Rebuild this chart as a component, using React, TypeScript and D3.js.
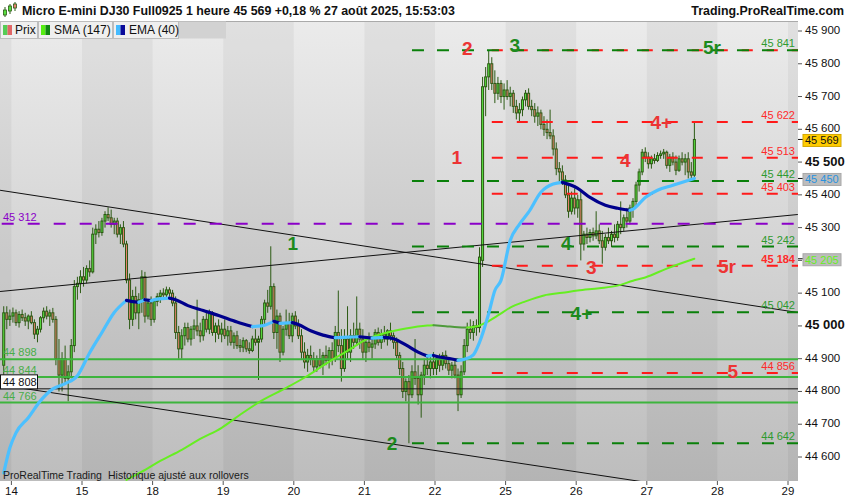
import React from 'react';
import * as d3 from 'd3';

// open, high, low, close
type Candle = [number, number, number, number];

const dayLabels = ['14', '15', '18', '19', '20', '21', '22', '25', '26', '27', '28', '29'];

const aug13: Candle[] = [
    [44880, 45060, 44840, 45040], [45040, 45060, 44990, 45020], [45020, 45050, 45000, 45030],
];
const aug14: Candle[] = [
    [45030, 45056, 45010, 45040], [45040, 45050, 45000, 45010], [45010, 45045, 44995, 45035],
    [45035, 45050, 45015, 45025], [45025, 45040, 45000, 45015], [45015, 45035, 44990, 45030],
    [45030, 45045, 45005, 45010], [45010, 45020, 44960, 44975], [44975, 45000, 44950, 44990],
    [44990, 45030, 44980, 45025], [45025, 45056, 45010, 45045], [45045, 45060, 45020, 45030],
    [45030, 45050, 45000, 45040], [45040, 45055, 45010, 45020], [45020, 45030, 44880, 44900],
    [44900, 44960, 44800, 44850], [44850, 44920, 44800, 44900], [44900, 44940, 44820, 44840],
    [44840, 44880, 44770, 44860], [44860, 44960, 44840, 44940], [44940, 45140, 44920, 45120],
    [45120, 45150, 45080, 45130], [45130, 45170, 45100, 45150],
];
const aug15: Candle[] = [
    [45150, 45180, 45120, 45140], [45140, 45185, 45130, 45175], [45175, 45200, 45150, 45165],
    [45165, 45300, 45160, 45280], [45280, 45310, 45250, 45295], [45295, 45320, 45270, 45285],
    [45285, 45330, 45275, 45320], [45320, 45350, 45300, 45340], [45340, 45362, 45320, 45330],
    [45330, 45355, 45300, 45310], [45310, 45330, 45280, 45320], [45320, 45330, 45270, 45280],
    [45280, 45310, 45250, 45300], [45300, 45320, 45240, 45250], [45250, 45260, 45130, 45140],
    [45140, 45160, 44990, 45020], [45020, 45110, 45000, 45090], [45090, 45120, 45020, 45040],
    [45040, 45100, 44990, 45080], [45080, 45170, 45040, 45150], [45150, 45165, 45010, 45030],
    [45030, 45080, 45020, 45070], [45070, 45090, 45000, 45020],
];
const aug18: Candle[] = [
    [45020, 45080, 45010, 45075], [45075, 45100, 45060, 45090], [45090, 45110, 45070, 45100],
    [45100, 45115, 45085, 45095], [45095, 45120, 45080, 45110], [45110, 45118, 45085, 45100],
    [45100, 45110, 45060, 45070], [45070, 45090, 44960, 44980], [44980, 45000, 44900, 44930],
    [44930, 44990, 44900, 44970], [44970, 45010, 44940, 44995], [44995, 45010, 44950, 44960],
    [44960, 45000, 44940, 44990], [44990, 45020, 44960, 45000], [45000, 45080, 44970, 44985],
    [44985, 45010, 44950, 44970], [44970, 45030, 44955, 45020], [45020, 45040, 44980, 44990],
    [44990, 45050, 44975, 45040], [45040, 45045, 44970, 44980], [44980, 45010, 44950, 45000],
    [45000, 45020, 44960, 44975], [44975, 45010, 44950, 44990],
];
const aug19: Candle[] = [
    [44990, 45020, 44960, 44970], [44970, 45000, 44940, 44985], [44985, 45000, 44940, 44950],
    [44950, 44980, 44930, 44970], [44970, 44985, 44930, 44940], [44940, 44960, 44920, 44935],
    [44935, 44965, 44920, 44955], [44955, 44960, 44920, 44930], [44930, 44950, 44915, 44925],
    [44925, 44970, 44920, 44960], [44960, 44990, 44940, 44950], [44950, 44970, 44835, 44960],
    [44960, 45030, 44950, 45020], [45020, 45080, 45000, 45070], [45070, 45110, 45040, 45060],
    [45060, 45243, 45050, 45120], [45120, 45130, 44960, 44980], [44980, 45050, 44930, 45030],
    [45030, 45040, 44890, 44920], [44920, 45000, 44910, 44990], [44990, 45050, 44970, 45010],
    [45010, 45040, 44960, 44970], [44970, 45040, 44950, 45030],
];
const aug20: Candle[] = [
    [45030, 45045, 44990, 45000], [45000, 45020, 44960, 44970], [44970, 44990, 44900, 44920],
    [44920, 44950, 44870, 44890], [44890, 44930, 44860, 44910], [44910, 44940, 44880, 44900],
    [44900, 44920, 44860, 44875], [44875, 44910, 44860, 44900], [44900, 44930, 44870, 44880],
    [44880, 44920, 44850, 44910], [44910, 44940, 44880, 44895], [44895, 44935, 44870, 44925],
    [44925, 44950, 44880, 44900], [44900, 45000, 44890, 44980], [44980, 45108, 44920, 44940],
    [44940, 44990, 44830, 44870], [44870, 44990, 44860, 44960], [44960, 45060, 44900, 44920],
    [44920, 44990, 44890, 44970], [44970, 45010, 44930, 44950], [44950, 45090, 44940, 44990],
    [44990, 45010, 44930, 44960], [44960, 44990, 44900, 44920],
];
const aug21: Candle[] = [
    [44920, 44960, 44890, 44950], [44950, 44980, 44920, 44935], [44935, 44960, 44900, 44945],
    [44945, 44990, 44930, 44980], [44980, 44995, 44940, 44950], [44950, 44990, 44930, 44975],
    [44975, 45000, 44950, 44960], [44960, 44990, 44940, 44985], [44985, 45010, 44955, 44970],
    [44970, 44980, 44930, 44950], [44950, 44965, 44900, 44910], [44910, 44920, 44850, 44870],
    [44870, 44890, 44780, 44800], [44800, 44840, 44770, 44830], [44830, 44850, 44642, 44790],
    [44790, 44880, 44780, 44860], [44860, 44960, 44820, 44840], [44840, 44880, 44760, 44790],
    [44790, 44860, 44720, 44850], [44850, 44900, 44820, 44880], [44880, 44910, 44850, 44870],
    [44870, 44905, 44840, 44890], [44890, 44920, 44850, 44870],
];
const aug22: Candle[] = [
    [44870, 44910, 44850, 44900], [44900, 44915, 44860, 44880], [44880, 44920, 44865, 44910],
    [44910, 44925, 44870, 44885], [44885, 44900, 44850, 44865], [44865, 44890, 44840, 44880],
    [44880, 44895, 44840, 44850], [44850, 44870, 44740, 44790], [44790, 44880, 44780, 44860],
    [44860, 44960, 44850, 44940], [44940, 45010, 44920, 44990], [44990, 45020, 44960, 44980],
    [44980, 45015, 44955, 45000], [45000, 45020, 44970, 44995], [44995, 45240, 44980, 45210],
    [45200, 45760, 45180, 45730], [45730, 45790, 45640, 45760], [45760, 45841, 45720, 45800],
    [45800, 45820, 45720, 45740], [45740, 45780, 45680, 45710], [45710, 45760, 45690, 45740],
    [45740, 45750, 45680, 45700], [45700, 45740, 45660, 45720],
];
const aug25: Candle[] = [
    [45720, 45750, 45690, 45700], [45700, 45730, 45670, 45710], [45710, 45720, 45650, 45670],
    [45670, 45690, 45630, 45650], [45650, 45680, 45620, 45660], [45660, 45700, 45640, 45690],
    [45690, 45720, 45670, 45710], [45710, 45725, 45660, 45670], [45670, 45690, 45640, 45660],
    [45660, 45680, 45620, 45640], [45640, 45670, 45610, 45650], [45650, 45660, 45600, 45615],
    [45615, 45640, 45580, 45600], [45600, 45630, 45570, 45590], [45590, 45660, 45570, 45580],
    [45580, 45600, 45520, 45540], [45540, 45560, 45460, 45480], [45480, 45500, 45440, 45470],
    [45470, 45490, 45430, 45445], [45445, 45460, 45390, 45400], [45400, 45430, 45330, 45350],
    [45350, 45410, 45340, 45390], [45390, 45420, 45340, 45360],
];
const aug26: Candle[] = [
    [45360, 45400, 45330, 45385], [45385, 45410, 45200, 45250], [45250, 45290, 45230, 45280],
    [45280, 45300, 45250, 45270], [45270, 45295, 45255, 45285], [45285, 45300, 45260, 45275],
    [45275, 45350, 45265, 45290], [45290, 45310, 45250, 45260], [45260, 45290, 45190, 45240],
    [45240, 45280, 45230, 45270], [45270, 45300, 45250, 45260], [45260, 45290, 45240, 45280],
    [45280, 45310, 45255, 45270], [45270, 45320, 45260, 45310], [45310, 45380, 45280, 45300],
    [45300, 45340, 45290, 45330], [45330, 45360, 45300, 45320], [45320, 45370, 45310, 45360],
    [45360, 45390, 45330, 45380], [45380, 45440, 45360, 45430], [45430, 45480, 45410, 45470],
    [45470, 45540, 45460, 45530], [45530, 45545, 45500, 45515],
];
const aug27: Candle[] = [
    [45515, 45530, 45480, 45495], [45495, 45520, 45480, 45510], [45510, 45525, 45495, 45505],
    [45505, 45530, 45500, 45520], [45520, 45535, 45510, 45525], [45525, 45540, 45510, 45530],
    [45530, 45535, 45480, 45490], [45490, 45525, 45470, 45515], [45515, 45530, 45490, 45500],
    [45500, 45520, 45460, 45475], [45475, 45520, 45470, 45510], [45510, 45530, 45490, 45500],
    [45500, 45525, 45460, 45510], [45510, 45530, 45450, 45470], [45470, 45500, 45440, 45460],
    [45460, 45622, 45450, 45569],
];

// [candle index, value]
const ema40: [number, number][] = [
    [0, 44551], [2, 44628], [4, 44674], [8, 44720], [12, 44772], [16, 44808], [20, 44824],
    [24, 44848], [28, 44918], [32, 44980], [36, 45041], [40, 45078], [42, 45074], [44, 45072],
    [46, 45080], [48, 45077], [50, 45082], [54, 45085], [56, 45080], [60, 45062], [65, 45047],
    [70, 45032], [76, 45012], [81, 44998], [84, 45000], [88, 45014], [90, 45008], [94, 45010],
    [96, 45004], [100, 44985], [104, 44972], [108, 44964], [112, 44966], [116, 44967],
    [120, 44963], [124, 44965], [127, 44961], [131, 44942], [135, 44920], [138, 44908],
    [140, 44910], [142, 44905], [146, 44899], [148, 44895], [150, 44898], [153, 44912],
    [155, 44950], [158, 45038], [160, 45108], [162, 45139], [165, 45261], [168, 45310],
    [171, 45347], [175, 45408], [179, 45433], [182, 45438], [187, 45420], [191, 45392],
    [196, 45368], [200, 45359], [204, 45353], [205, 45356], [209, 45392], [213, 45414],
    [218, 45429], [225, 45450],
];
const sma147: [number, number][] = [
    [40, 44530], [45, 44555], [51, 44588], [58, 44622], [64, 44655], [71, 44689], [77, 44729],
    [84, 44772], [92, 44811], [99, 44848], [105, 44885], [112, 44924], [118, 44958],
    [125, 44980], [131, 44992], [138, 45001], [140, 45002], [144, 44999], [148, 44996],
    [151, 44995], [155, 45001], [158, 45015], [161, 45032], [165, 45056], [170, 45075],
    [176, 45093], [182, 45101], [187, 45108], [194, 45115], [200, 45123], [205, 45138],
    [209, 45148], [216, 45175], [225, 45205],
];

const priceTicks = d3.range(44600, 45901, 100);
const greenLevels = [45841, 45442, 45242, 45042, 44642];
const redLevels = [45622, 45513, 45403, 45184, 44856];
const purpleLevel = 45312;
const solidGreenLevels = [44898, 44844, 44766];
const blackLevel = 44808;
// [[index, price], [index, price]]
const trendLines: [number, number][][] = [
    [[-1.2, 45414], [258.7, 45041]],
    [[-1.2, 45105], [258.7, 45340]],
    [[-1.2, 44820], [258.7, 44453]],
];
const notes: { t: string, i: number, p: number, red: boolean }[] = [
    { t: '2', i: 151, p: 45848, red: true },
    { t: '3', i: 166.5, p: 45857, red: false },
    { t: '5r', i: 230.7, p: 45851, red: false },
    { t: '1', i: 147.6, p: 45515, red: true },
    { t: '4+', i: 214.2, p: 45622, red: true },
    { t: '4', i: 202.5, p: 45506, red: true },
    { t: '4', i: 183.3, p: 45252, red: false },
    { t: '3', i: 191.4, p: 45178, red: true },
    { t: '4+', i: 188.2, p: 45038, red: false },
    { t: '5r', i: 235.6, p: 45181, red: true },
    { t: '5', i: 237.5, p: 44860, red: true },
    { t: '2', i: 126.5, p: 44640, red: false },
    { t: '1', i: 94.2, p: 45252, red: false },
];

const sessions: [number, Candle[]][] = [
    [-1, aug13], [0, aug14], [1, aug15], [2, aug18], [3, aug19], [4, aug20],
    [5, aug21], [6, aug22], [7, aug25], [8, aug26], [9, aug27],
];

const FIRST = 3;
const PER_DAY = 23;
const fmt = d3.formatLocale({ decimal: ',', thousands: ' ', grouping: [3], currency: ['', ''] }).format(',d');

function runs(points: [number, number][]) {
    const out: { up: boolean, pts: [number, number][] }[] = [];
    for (let k = 1; k < points.length; k++) {
        const up = points[k][1] >= points[k - 1][1];
        const last = out[out.length - 1];
        if (last && last.up === up) last.pts.push(points[k]);
        else out.push({ up, pts: [points[k - 1], points[k]] });
    }
    return out;
}

export default function App() {
    const W = 850, H = 500;
    const plotRight = 798, plotTop = 21, plotBottom = 481;

    const x = d3.scaleLinear().domain([FIRST, FIRST + PER_DAY * 11]).range([11.4, 11.4 + 70.6 * 11]);
    const cx = (i: number) => x(i + 0.5);
    const y = d3.scaleLinear().domain([44600, 45900]).range([457, 31]);

    const candles = sessions.flatMap(([d, arr]) =>
        arr.map((c, h) => ({ i: d < 0 ? FIRST - arr.length + h : FIRST + d * PER_DAY + h, c })));
    const last = candles[candles.length - 1].c;

    const line = d3.line<[number, number]>()
        .x(p => cx(p[0]))
        .y(p => y(p[1]))
        .curve(d3.curveMonotoneX);

    const font = "'Liberation Sans', Arial, sans-serif";
    const gStart = cx(133), rStart = cx(159);

    const bands = d3.range(-1, 12).map(d => {
        const x0 = Math.max(0, x(FIRST + d * PER_DAY));
        const x1 = Math.min(plotRight, x(FIRST + (d + 1) * PER_DAY));
        return { d, x0, x1 };
    });

    const tags = [
        { v: last[3], fill: '#ffcc00', stroke: '#d4a800', color: '#111' },
        { v: ema40[ema40.length - 1][1], fill: '#bdbdbd', stroke: '#a8a8a8', color: '#2a92dd' },
        { v: sma147[sma147.length - 1][1], fill: '#bdbdbd', stroke: '#a8a8a8', color: '#66ee22' },
    ];
    // tick labels hidden under a price tag, as in the original
    const hidden = (v: number) => tags.some(t => Math.abs(y(t.v) - y(v)) < 6);

    return (
        <svg width={W} height={H} style={{ position: 'absolute', left: 0, top: 0, display: 'block' }} fontFamily={font}>
            <defs>
                <linearGradient id="bg" x1="0" y1="0" x2="0" y2="1">
                    <stop offset="0" stopColor="#ebebeb" />
                    <stop offset="1" stopColor="#bdbdbd" />
                </linearGradient>
                <clipPath id="plot">
                    <rect x={0} y={plotTop} width={plotRight} height={plotBottom - plotTop} />
                </clipPath>
            </defs>
            <rect width={W} height={H} fill="#fff" />
            <rect x={0} y={plotTop} width={plotRight} height={plotBottom - plotTop} fill="url(#bg)" />
            {bands.filter(b => b.d % 2 !== 0).map(b =>
                <rect key={b.d} x={b.x0} y={plotTop} width={b.x1 - b.x0} height={plotBottom - plotTop} fill="rgba(0,0,0,0.045)" />)}

            <g clipPath="url(#plot)">
                {/* candles */}
                {candles.map(({ i, c }) => {
                    const [o, h, l, cl] = c;
                    const up = cl >= o;
                    const top = y(Math.max(o, cl));
                    const bh = Math.max(1, Math.abs(y(o) - y(cl)));
                    return <g key={i}>
                        <line x1={cx(i)} x2={cx(i)} y1={y(h)} y2={y(l)} stroke="#2c5a14" strokeWidth={1} />
                        <rect x={cx(i) - 1} y={top} width={2} height={bh}
                            fill={up ? '#58e040' : '#e8806e'} stroke="#2c5a14" strokeWidth={1} />
                    </g>;
                })}

                {/* horizontal solid levels */}
                {solidGreenLevels.map(v =>
                    <line key={v} x1={0} x2={plotRight} y1={y(v)} y2={y(v)} stroke="#3db43d" strokeWidth={2} />)}
                <line x1={0} x2={plotRight} y1={y(blackLevel)} y2={y(blackLevel)} stroke="#111" strokeWidth={1} />

                {/* trend lines */}
                {trendLines.map((t, k) =>
                    <line key={k} x1={cx(t[0][0])} y1={y(t[0][1])} x2={cx(t[1][0])} y2={y(t[1][1])} stroke="#111" strokeWidth={1} />)}

                {/* dashed levels */}
                <line x1={1.7} x2={plotRight} y1={y(purpleLevel)} y2={y(purpleLevel)} stroke="#8a00c8" strokeWidth={2} strokeDasharray="12 14" />
                <line x1={rStart} x2={plotRight} y1={y(greenLevels[0])} y2={y(greenLevels[0])} stroke="#ff1a1a" strokeWidth={2} strokeDasharray="11 14" />
                {greenLevels.map(v =>
                    <line key={v} x1={gStart} x2={plotRight} y1={y(v)} y2={y(v)} stroke="#0a800a" strokeWidth={2} strokeDasharray="12 13" />)}
                {redLevels.map(v =>
                    <line key={v} x1={rStart} x2={plotRight} y1={y(v)} y2={y(v)} stroke="#ff1a1a" strokeWidth={2} strokeDasharray="11 14" />)}

                {/* moving averages */}
                {runs(sma147).map((r, k) =>
                    <path key={'s' + k} d={line(r.pts) || ''} fill="none" stroke={r.up ? '#66ee22' : '#4f9a3c'} strokeWidth={2} strokeLinecap="round" />)}
                {runs(ema40).map((r, k) =>
                    <path key={'e' + k} d={line(r.pts) || ''} fill="none" stroke={r.up ? '#4cc0ff' : '#00008c'} strokeWidth={3.2} strokeLinecap="round" />)}

                {/* level labels */}
                {greenLevels.map(v =>
                    <text key={v} x={795} y={y(v) - 3} textAnchor="end" fontSize={11} fill="#2f9a2f">{fmt(v)}</text>)}
                {redLevels.map(v =>
                    <text key={v} x={795} y={y(v) - 3} textAnchor="end" fontSize={11} fill="#ff2a2a"
                        fontWeight={v === 45184 ? 'bold' : 'normal'}>{fmt(v)}</text>)}
                {solidGreenLevels.map(v =>
                    <text key={v} x={3} y={y(v) - 3} fontSize={11} fill="#48ad48">{fmt(v)}</text>)}
                <text x={3} y={y(purpleLevel) - 3} fontSize={11} fill="#8a00c8">{fmt(purpleLevel)}</text>
                <rect x={0.5} y={y(blackLevel) - 14} width={37} height={14} fill="#fff" stroke="#111" strokeWidth={1} />
                <text x={3} y={y(blackLevel) - 3} fontSize={11} fill="#111">{fmt(blackLevel)}</text>

                {notes.map((n, k) =>
                    <text key={k} x={cx(n.i)} y={y(n.p)} textAnchor="middle" dominantBaseline="central"
                        fontSize={19} fontWeight="bold" fill={n.red ? '#ec3434' : '#1d8a1d'}>{n.t}</text>)}

                <text x={3} y={479} fontSize={10.5} fill="#1a1a1a">ProRealTime Trading</text>
                <text x={108} y={479} fontSize={10.5} fill="#1a1a1a">Historique ajusté aux rollovers</text>
            </g>

            {/* legend row */}
            <line x1={0} x2={plotRight} y1={plotTop + 0.5} y2={plotTop + 0.5} stroke="#aaa" />
            <rect x={178} y={21.5} width={48} height={17} fill="#d2d2d2" />
            {[
                { x0: 0.5, w: 37, label: 'Prix', c1: '#55cc55', c2: '#e06666', tx: 15 },
                { x0: 38.5, w: 74, label: 'SMA (147)', c1: '#55ee11', c2: '#118811', tx: 54 },
                { x0: 113.5, w: 65, label: 'EMA (40)', c1: '#44bbff', c2: '#0a0a9a', tx: 129 },
            ].map(t => <g key={t.label}>
                <rect x={t.x0} y={21.5} width={t.w} height={17} fill="#efefef" stroke="#bdbdbd" />
                <rect x={t.x0 + 2.5} y={25} width={4.5} height={10} fill={t.c1} />
                <rect x={t.x0 + 7} y={25} width={4.5} height={10} fill={t.c2} />
                <text x={t.tx} y={34} fontSize={12} fill="#111">{t.label}</text>
            </g>)}

            {/* title */}
            <g>
                <line x1={5} x2={5} y1={7} y2={17} stroke="#2c5a14" />
                <rect x={3.5} y={10} width={3} height={5} fill="#58e040" stroke="#2c5a14" strokeWidth={0.8} />
                <line x1={10} x2={10} y1={4} y2={14} stroke="#2c5a14" />
                <rect x={8.5} y={6} width={3} height={5} fill="#58e040" stroke="#2c5a14" strokeWidth={0.8} />
                <line x1={15} x2={15} y1={2} y2={11} stroke="#2c5a14" />
                <rect x={13.5} y={4} width={3} height={4} fill="#e8806e" stroke="#2c5a14" strokeWidth={0.8} />
            </g>
            <text x={22} y={15} fontSize={12.4} fontWeight="bold" fill="#111">
                Micro E-mini DJ30 Full0925 1 heure 45 569 +0,18 % 27 août 2025, 15:53:03
            </text>
            <text x={844} y={15} textAnchor="end" fontSize={12.4} fontWeight="bold" fill="#111">Trading.ProRealTime.com</text>

            {/* right axis */}
            {priceTicks.map(v => {
                const big = v % 500 === 0;
                return <g key={v}>
                    <line x1={plotRight} x2={plotRight + 4} y1={y(v)} y2={y(v)} stroke="#555" />
                    {!hidden(v) &&
                        <text x={805} y={y(v) - 1} dominantBaseline="central" fontSize={big ? 13 : 11.5}
                            fontWeight={big ? 'bold' : 'normal'} fill="#111">{fmt(v)}</text>}
                </g>;
            })}
            {tags.map(tag => <g key={tag.v}>
                <line x1={plotRight} x2={plotRight + 5} y1={y(tag.v)} y2={y(tag.v)} stroke="#111" />
                <rect x={803} y={y(tag.v) - 5} width={38} height={12} fill={tag.fill} stroke={tag.stroke} />
                <text x={805} y={y(tag.v) + 1} dominantBaseline="central" fontSize={11} fill={tag.color}>{fmt(tag.v)}</text>
            </g>)}

            {/* bottom axis */}
            {dayLabels.map((lab, d) => {
                const tx = x(FIRST + d * PER_DAY);
                return <g key={lab}>
                    <line x1={tx} x2={tx} y1={plotBottom} y2={plotBottom + 4} stroke="#555" />
                    <text x={tx} y={495} textAnchor="middle" fontSize={11.5} fill="#111">{lab}</text>
                </g>;
            })}
        </svg>
    );
}
